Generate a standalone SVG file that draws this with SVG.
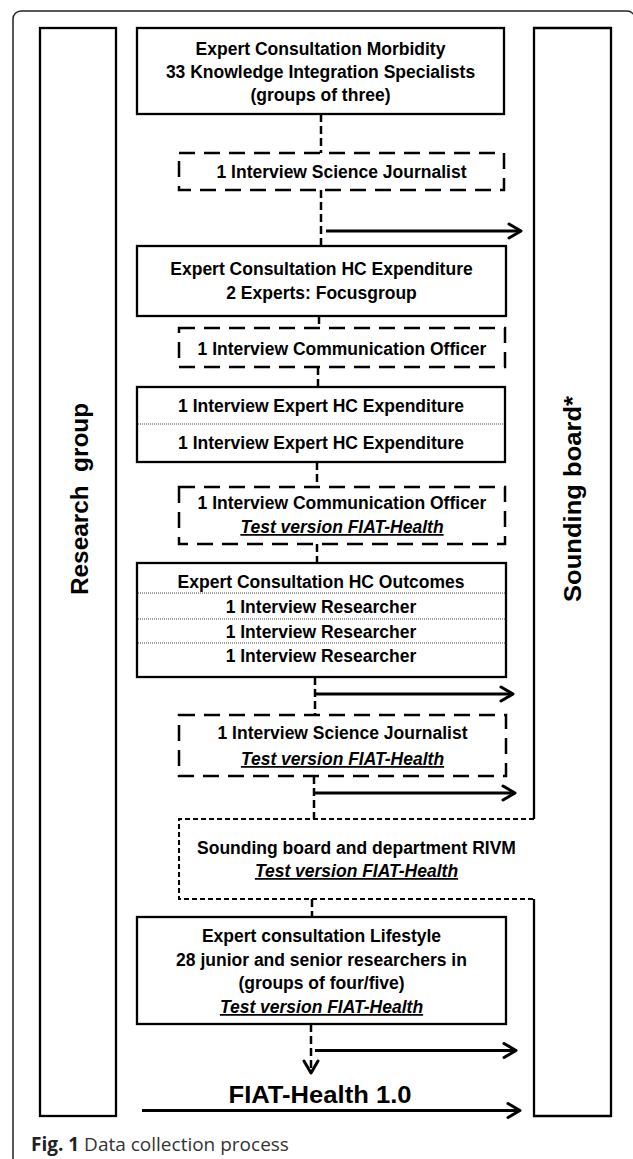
<svg xmlns="http://www.w3.org/2000/svg" width="633" height="1159" viewBox="0 0 633 1159">
<style>
.t{font-family:"Liberation Sans",Arial,sans-serif;font-weight:bold;font-size:17.5px;text-anchor:middle;fill:#000}
.ti{font-style:italic;text-decoration:underline}
.side{font-size:24px}
.big{font-size:23px}
.box{fill:#fff;stroke:#000;stroke-width:2.3}
.col{fill:none;stroke:#000;stroke-width:2.3}
.dbox{fill:none;stroke:#000;stroke-width:2.5;stroke-dasharray:16 9}
.fbox{fill:none;stroke:#000;stroke-width:2;stroke-dasharray:5 3}
.div{stroke:#444;stroke-width:1;stroke-dasharray:1 1}
.dc{fill:none;stroke:#000;stroke-width:2.5;stroke-dasharray:8 4}
.ar{fill:none;stroke:#000;stroke-width:3}
.cap{font-family:"Open Sans","Liberation Sans",sans-serif;font-size:19px;fill:#333}
</style>
<defs>
<marker id="ah" viewBox="0 0 20 20" markerWidth="20" markerHeight="20" refX="14" refY="10" orient="auto" markerUnits="userSpaceOnUse">
<path d="M2,3 L14,10 L2,17" fill="none" stroke="#000" stroke-width="3" stroke-linecap="round" stroke-linejoin="round" stroke-dasharray="none"/>
</marker>
</defs>
<rect width="633" height="1159" fill="#fff"/>
<path d="M13,1159 V19 A8,8 0 0 1 21,11 H627 A8,8 0 0 1 635,19 V1159" fill="none" stroke="#222" stroke-width="1.5"/>

<g id="research-group">
<rect class="col" x="40" y="28" width="76" height="1088"/>
<text class="t side" transform="translate(88,499) rotate(-90)" textLength="192" lengthAdjust="spacingAndGlyphs" xml:space="preserve">Research  group</text>
</g>

<g id="sounding-board">
<path class="col" d="M534,819 V28 H611 V1116 H534 V899"/>
<text class="t side" transform="translate(581,499) rotate(-90)" textLength="206" lengthAdjust="spacingAndGlyphs">Sounding board*</text>
</g>

<g id="connectors">
<path class="dc" d="M321,114 V153"/>
<path class="dc" d="M321,190 V246"/>
<path class="dc" d="M319,316 V328"/>
<path class="dc" d="M318,367 V387"/>
<path class="dc" d="M317,462 V487"/>
<path class="dc" d="M317,544 V563"/>
<path class="dc" d="M315,677 V715"/>
<path class="dc" d="M314,776 V819"/>
<path class="dc" d="M312,899 V917"/>
<path class="dc" d="M311,1024 V1073" marker-end="url(#ah)"/>
<path class="ar" d="M326,231 H521" marker-end="url(#ah)"/>
<path class="ar" d="M315,694 H513" marker-end="url(#ah)"/>
<path class="ar" d="M314,793 H515" marker-end="url(#ah)"/>
<path class="ar" d="M315,1050.5 H516" marker-end="url(#ah)"/>
<path class="ar" d="M142,1110.5 H520" marker-end="url(#ah)"/>
</g>

<g id="morbidity">
<rect class="box" x="137" y="28" width="367" height="86"/>
<text class="t" x="320.5" y="55">Expert Consultation Morbidity</text>
<text class="t" x="320.5" y="78">33 Knowledge Integration Specialists</text>
<text class="t" x="320.5" y="101">(groups of three)</text>
</g>

<g id="journalist-1">
<rect class="dbox" x="179" y="153" width="325" height="37"/>
<text class="t" x="341.5" y="178">1 Interview Science Journalist</text>
</g>

<g id="hc-expenditure">
<rect class="box" x="137" y="246" width="369" height="70"/>
<text class="t" x="321.5" y="275">Expert Consultation HC Expenditure</text>
<text class="t" x="321.5" y="299">2 Experts: Focusgroup</text>
</g>

<g id="comm-officer-1">
<rect class="dbox" x="179" y="328" width="326" height="39"/>
<text class="t" x="342" y="355">1 Interview Communication Officer</text>
</g>

<g id="expert-interviews">
<rect class="box" x="137" y="387" width="368" height="75"/>
<line class="div" x1="138" y1="424" x2="504" y2="424"/>
<text class="t" x="321" y="412">1 Interview Expert HC Expenditure</text>
<text class="t" x="321" y="449">1 Interview Expert HC Expenditure</text>
</g>

<g id="comm-officer-2">
<rect class="dbox" x="179" y="487" width="326" height="57"/>
<text class="t" x="342" y="509">1 Interview Communication Officer</text>
<text class="t ti" x="342" y="533">Test version FIAT-Health</text>
</g>

<g id="hc-outcomes">
<rect class="box" x="137" y="563" width="369" height="114"/>
<line class="div" x1="138" y1="593" x2="505" y2="593"/>
<line class="div" x1="138" y1="619" x2="505" y2="619"/>
<line class="div" x1="138" y1="643" x2="505" y2="643"/>
<text class="t" x="321" y="588">Expert Consultation HC Outcomes</text>
<text class="t" x="321" y="613">1 Interview Researcher</text>
<text class="t" x="321" y="638">1 Interview Researcher</text>
<text class="t" x="321" y="662">1 Interview Researcher</text>
</g>

<g id="journalist-2">
<rect class="dbox" x="179" y="715" width="327" height="61"/>
<text class="t" x="342.5" y="739">1 Interview Science Journalist</text>
<text class="t ti" x="342.5" y="765">Test version FIAT-Health</text>
</g>

<g id="sounding-rivm">
<path class="fbox" d="M534,819 H179 V899 H534"/>
<text class="t" x="356.5" y="854">Sounding board and department RIVM</text>
<text class="t ti" x="356.5" y="877">Test version FIAT-Health</text>
</g>

<g id="lifestyle">
<rect class="box" x="137" y="917" width="369" height="107"/>
<text class="t" x="321.5" y="942">Expert consultation Lifestyle</text>
<text class="t" x="321.5" y="966">28 junior and senior researchers in</text>
<text class="t" x="321.5" y="989">(groups of four/five)</text>
<text class="t ti" x="321.5" y="1013">Test version FIAT-Health</text>
</g>

<g id="fiat-health">
<text class="t big" x="320" y="1103" textLength="183" lengthAdjust="spacingAndGlyphs">FIAT-Health 1.0</text>
</g>

<g id="caption">
<text class="cap" x="31" y="1151"><tspan font-weight="bold" fill="#222">Fig. 1</tspan> Data collection process</text>
</g>
</svg>
